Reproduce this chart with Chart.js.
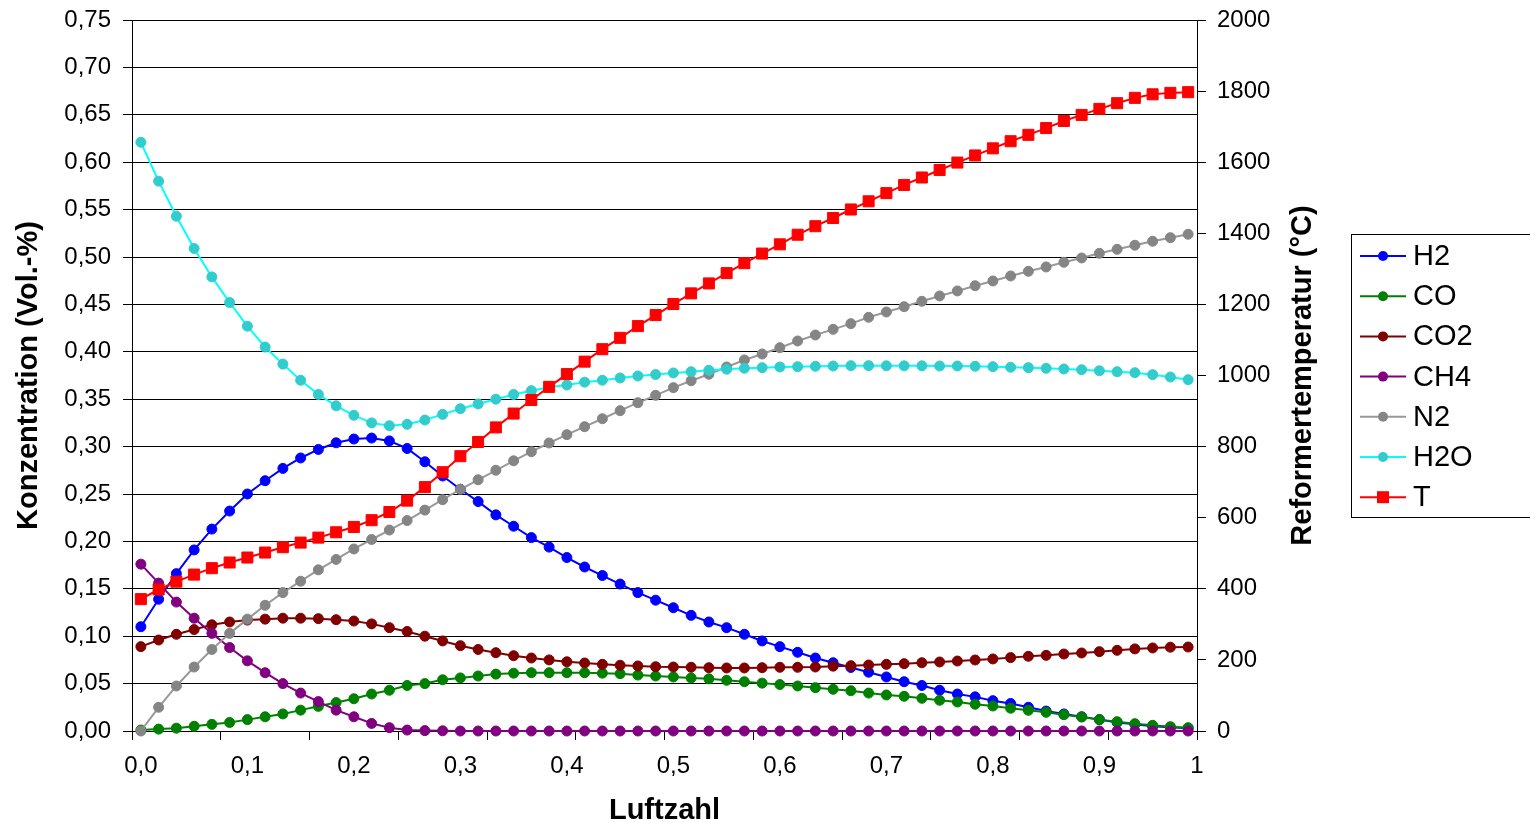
<!DOCTYPE html>
<html>
<head>
<meta charset="utf-8">
<script src="https://cdn.jsdelivr.net/npm/chart.js@4.4.1/dist/chart.umd.min.js"></script>
<style>
  html, body { margin: 0; padding: 0; background: #fff; overflow: hidden; }
</style>
</head>
<body>
<canvas id="chart" width="1530" height="823"></canvas>
<script>
// 60 Luftzahl steps
const h2 = [0.110,0.139,0.166,0.191,0.213,0.232,0.250,0.264,0.277,0.288,
            0.297,0.304,0.308,0.309,0.306,0.298,0.284,0.269,0.255,0.242,
            0.228,0.216,0.204,0.194,0.183,0.173,0.164,0.155,0.146,0.138,
            0.130,0.122,0.115,0.109,0.102,0.095,0.089,0.083,0.077,0.072,
            0.067,0.062,0.057,0.052,0.048,0.043,0.039,0.036,0.032,0.029,
            0.025,0.021,0.018,0.015,0.012,0.009,0.007,0.005,0.004,0.003];
const co = [0.001,0.002,0.003,0.005,0.007,0.009,0.012,0.015,0.018,0.022,
            0.026,0.030,0.034,0.039,0.043,0.048,0.050,0.054,0.056,0.058,
            0.060,0.061,0.0615,0.0615,0.0615,0.0615,0.061,0.0605,0.059,0.058,
            0.057,0.056,0.055,0.0535,0.052,0.0505,0.049,0.0475,0.0457,0.044,
            0.0425,0.040,0.038,0.0366,0.0345,0.0324,0.0306,0.0282,0.0264,0.024,
            0.0218,0.0197,0.0172,0.0148,0.012,0.0098,0.0077,0.006,0.0045,0.0035];
const co2 = [0.089,0.096,0.102,0.107,0.112,0.115,0.117,0.118,0.119,0.119,
             0.1185,0.1174,0.116,0.113,0.109,0.105,0.100,0.095,0.090,0.086,
             0.0826,0.0794,0.077,0.075,0.073,0.0717,0.0703,0.0693,0.0686,0.0678,
             0.0675,0.0672,0.0668,0.0665,0.0665,0.0668,0.0672,0.0672,0.0675,0.0684,
             0.0689,0.0696,0.0703,0.071,0.072,0.0728,0.0738,0.0749,0.076,0.0774,
             0.0788,0.0798,0.0812,0.0823,0.0837,0.0851,0.0866,0.0876,0.0884,0.0886];
const ch4 = [0.176,0.156,0.136,0.119,0.103,0.088,0.074,0.0615,0.050,0.040,
             0.031,0.022,0.015,0.008,0.0035,0.001,0.0004,0.0002,0,0,
             0,0,0,0,0,0,0,0,0,0,
             0,0,0,0,0,0,0,0,0,0,
             0,0,0,0,0,0,0,0,0,0,
             0,0,0,0,0,0,0,0,0,0];
const n2 = [0.000,0.025,0.0475,0.0675,0.086,0.103,0.118,0.1326,0.146,0.158,
            0.170,0.181,0.192,0.202,0.212,0.222,0.233,0.244,0.255,0.265,
            0.275,0.285,0.2946,0.3038,0.3126,0.321,0.3294,0.3379,0.3463,0.3541,
            0.3622,0.3695,0.3763,0.384,0.3914,0.3977,0.4043,0.4114,0.4177,0.4237,
            0.4297,0.4364,0.442,0.4476,0.4533,0.4589,0.4642,0.4697,0.4747,0.480,
            0.4849,0.4895,0.4944,0.499,0.5039,0.5081,0.5124,0.5166,0.5204,0.524];
const h2o = [0.621,0.580,0.543,0.509,0.479,0.452,0.427,0.405,0.387,0.370,
             0.355,0.343,0.333,0.325,0.322,0.3235,0.328,0.334,0.340,0.345,
             0.350,0.355,0.359,0.3626,0.365,0.368,0.370,0.3724,0.3745,0.376,
             0.3777,0.379,0.3805,0.3816,0.3826,0.3833,0.384,0.3843,0.3847,0.385,
             0.3854,0.3854,0.3852,0.3852,0.3852,0.385,0.385,0.3847,0.3843,0.3837,
             0.3833,0.3826,0.3819,0.3811,0.380,0.379,0.378,0.3759,0.3734,0.3706];
const temp = [371,398,420,440,458,474,488,502,517,530,
              544,559,574,593,616,648,686,728,773,813,
              854,893,931,968,1004,1039,1074,1106,1139,1170,
              1201,1231,1259,1288,1316,1343,1369,1396,1420,1443,
              1467,1490,1513,1536,1557,1578,1599,1619,1639,1659,
              1677,1696,1716,1733,1750,1766,1781,1791,1795,1797];

// x axis: labels every 6th step, tick marks every 5th step boundary
const xLabels = ['0,0','0,1','0,2','0,3','0,4','0,5','0,6','0,7','0,8','0,9','1'];
const xLabelAt = [0,6,12,18,24,30,36,42,48,54,59.5];
const xMarkAt = [-0.5,4.5,9.5,14.5,19.5,24.5,29.5,34.5,39.5,44.5,49.5,54.5,59.5];

const FONT = "'Liberation Sans', Arial, sans-serif";
Chart.defaults.font.family = FONT;
Chart.defaults.color = '#000';

const toPts = arr => arr.map((v, i) => ({x: i, y: v}));

function series(label, data, line, point, style, r, axis) {
    return {
        label: label,
        data: toPts(data),
        borderColor: line,
        backgroundColor: point,
        pointBackgroundColor: point,
        pointBorderColor: point,
        pointBorderWidth: 1,
        pointStyle: style,
        pointRadius: r,
        borderWidth: 2,
        tension: 0,
        clip: false,
        yAxisID: axis
    };
}

const datasets = [
    series('H2', h2, '#0000ff', '#0000ff', 'circle', 5, 'y'),
    series('CO', co, '#008000', '#008000', 'circle', 5, 'y'),
    series('CO2', co2, '#800000', '#800000', 'circle', 5, 'y'),
    series('CH4', ch4, '#800080', '#800080', 'circle', 5, 'y'),
    series('N2', n2, '#999999', '#858585', 'circle', 5, 'y'),
    series('H2O', h2o, '#00ffff', '#33cccc', 'circle', 5, 'y'),
    series('T', temp, '#ff0000', '#ff0000', 'rect', 7.8, 'y2')
];
// later series drawn on top, like the original
datasets.forEach((d, i) => d.order = datasets.length - 1 - i);

// legend with line + marker, framed box
const boxLegend = {
    id: 'boxLegend',
    afterDraw(chart) {
        const ctx = chart.ctx;
        ctx.save();
        ctx.strokeStyle = '#000';
        ctx.lineWidth = 1;
        ctx.strokeRect(1351.5, 234.5, 220, 283);
        chart.data.datasets.forEach((d, i) => {
            const y = 256 + i * 40.2;
            ctx.strokeStyle = d.borderColor;
            ctx.lineWidth = 2;
            ctx.beginPath();
            ctx.moveTo(1360, y);
            ctx.lineTo(1406, y);
            ctx.stroke();
            ctx.fillStyle = d.pointBackgroundColor;
            ctx.beginPath();
            if (d.pointStyle === 'rect') {
                ctx.rect(1377, y - 6, 12, 12);
            } else {
                ctx.arc(1383, y, 5, 0, Math.PI * 2);
            }
            ctx.fill();
            ctx.fillStyle = '#000';
            ctx.font = '29px ' + FONT;
            ctx.textAlign = 'left';
            ctx.textBaseline = 'middle';
            ctx.fillText(d.label, 1413, y + 1);
        });
        ctx.restore();
    }
};

// right axis title reads bottom-to-top
const rightTitle = {
    id: 'rightTitle',
    afterDraw(chart) {
        const ctx = chart.ctx;
        const a = chart.chartArea;
        ctx.save();
        ctx.translate(1303, (a.top + a.bottom) / 2);
        ctx.rotate(-Math.PI / 2);
        ctx.font = 'bold 29px ' + FONT;
        ctx.fillStyle = '#000';
        ctx.textAlign = 'center';
        ctx.textBaseline = 'middle';
        ctx.fillText('Reformertemperatur (°C)', 0, 0);
        ctx.restore();
    }
};

const fitY = w => axis => {
    axis.width = w;
    axis.paddingTop = 0;
    axis.paddingBottom = 0;
};

new Chart(document.getElementById('chart'), {
    type: 'line',
    data: { datasets: datasets },
    options: {
        responsive: false,
        animation: false,
        devicePixelRatio: 1,
        layout: { padding: { top: 20, right: 203, bottom: 0, left: 0 } },
        plugins: {
            legend: { display: false },
            tooltip: { enabled: false }
        },
        scales: {
            x: {
                type: 'linear',
                min: -0.5,
                max: 59.5,
                afterBuildTicks: axis => {
                    const vals = xMarkAt.concat(xLabelAt.filter(v => xMarkAt.indexOf(v) < 0));
                    axis.ticks = vals.sort((a, b) => a - b).map(v => ({value: v}));
                },
                afterFit: axis => {
                    axis.height = 92;
                    axis.paddingLeft = 0;
                    axis.paddingRight = 0;
                },
                ticks: {
                    autoSkip: false,
                    maxRotation: 0,
                    padding: 12,
                    font: { size: 24 },
                    color: '#000',
                    callback: v => {
                        const k = xLabelAt.indexOf(v);
                        return k >= 0 ? xLabels[k] : '';
                    }
                },
                grid: {
                    drawOnChartArea: false,
                    tickLength: 9,
                    color: c => (c.tick && xMarkAt.indexOf(c.tick.value) >= 0) ? '#000' : 'rgba(0,0,0,0)'
                },
                border: { display: true, color: '#000', width: 1 },
                title: {
                    display: true,
                    text: 'Luftzahl',
                    color: '#000',
                    font: { size: 29, weight: 'bold', lineHeight: 0.8 },
                    padding: { top: 0, bottom: 0 }
                }
            },
            y: {
                position: 'left',
                min: 0,
                max: 0.75,
                afterFit: fitY(132),
                ticks: {
                    stepSize: 0.05,
                    padding: 12,
                    font: { size: 24 },
                    color: '#000',
                    callback: v => v.toFixed(2).replace('.', ',')
                },
                grid: { color: '#000', lineWidth: 1, tickLength: 9 },
                border: { display: true, color: '#000', width: 1 },
                title: {
                    display: true,
                    text: 'Konzentration (Vol.-%)',
                    color: '#000',
                    font: { size: 29, weight: 'bold', lineHeight: 1 },
                    padding: { top: 14, bottom: 0 }
                }
            },
            y2: {
                position: 'right',
                min: 0,
                max: 2000,
                afterFit: fitY(130),
                ticks: {
                    stepSize: 200,
                    padding: 11,
                    font: { size: 24 },
                    color: '#000',
                    callback: v => String(v)
                },
                grid: { drawOnChartArea: false, color: '#000', tickLength: 9 },
                border: { display: true, color: '#000', width: 1 }
            }
        }
    },
    plugins: [boxLegend, rightTitle]
});
</script>
</body>
</html>
